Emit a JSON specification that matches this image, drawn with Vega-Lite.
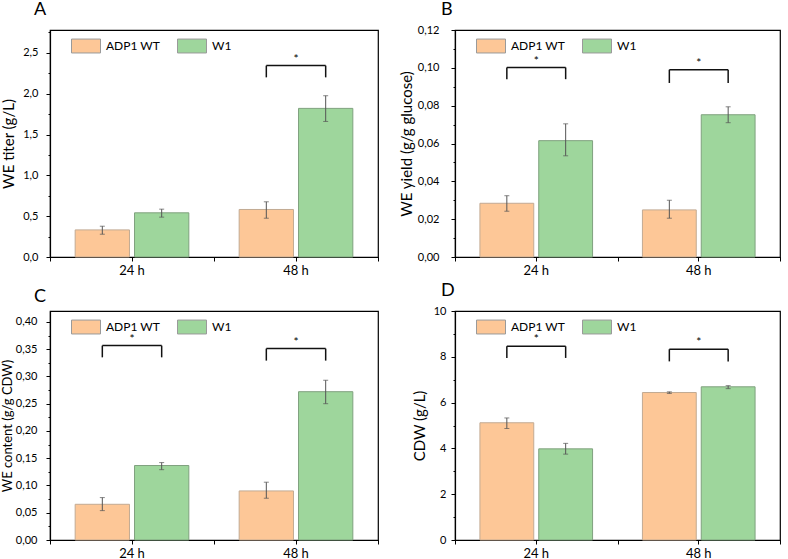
{
  "$schema": "https://vega.github.io/schema/vega-lite/v6.json",
  "padding": {"left": 0, "top": 0, "right": 5, "bottom": 5},
  "datasets": {
    "bars": [
      {"panel": "A", "time": "24 h", "strain": "ADP1 WT", "value": 0.332, "lo": 0.279, "hi": 0.377},
      {"panel": "A", "time": "24 h", "strain": "W1", "value": 0.541, "lo": 0.488, "hi": 0.586},
      {"panel": "A", "time": "48 h", "strain": "ADP1 WT", "value": 0.582, "lo": 0.475, "hi": 0.676},
      {"panel": "A", "time": "48 h", "strain": "W1", "value": 1.82, "lo": 1.66, "hi": 1.975},
      {"panel": "B", "time": "24 h", "strain": "ADP1 WT", "value": 0.0284, "lo": 0.0242, "hi": 0.0324},
      {"panel": "B", "time": "24 h", "strain": "W1", "value": 0.0615, "lo": 0.0535, "hi": 0.0704},
      {"panel": "B", "time": "48 h", "strain": "ADP1 WT", "value": 0.0249, "lo": 0.0205, "hi": 0.030},
      {"panel": "B", "time": "48 h", "strain": "W1", "value": 0.0752, "lo": 0.071, "hi": 0.0794},
      {"panel": "C", "time": "24 h", "strain": "ADP1 WT", "value": 0.0655, "lo": 0.0539, "hi": 0.0778},
      {"panel": "C", "time": "24 h", "strain": "W1", "value": 0.1366, "lo": 0.129, "hi": 0.142},
      {"panel": "C", "time": "48 h", "strain": "ADP1 WT", "value": 0.090, "lo": 0.0766, "hi": 0.106},
      {"panel": "C", "time": "48 h", "strain": "W1", "value": 0.272, "lo": 0.25, "hi": 0.293},
      {"panel": "D", "time": "24 h", "strain": "ADP1 WT", "value": 5.12, "lo": 4.87, "hi": 5.33},
      {"panel": "D", "time": "24 h", "strain": "W1", "value": 3.98, "lo": 3.75, "hi": 4.22},
      {"panel": "D", "time": "48 h", "strain": "ADP1 WT", "value": 6.44, "lo": 6.40, "hi": 6.47},
      {"panel": "D", "time": "48 h", "strain": "W1", "value": 6.69, "lo": 6.61, "hi": 6.74}
    ],
    "brackets": [
      {"panel": "A", "time": "48 h", "strain": "ADP1 WT", "top": 2.344, "foot": 2.2},
      {"panel": "A", "time": "48 h", "strain": "W1", "top": 2.344, "foot": 2.2},
      {"panel": "B", "time": "24 h", "strain": "ADP1 WT", "top": 0.1002, "foot": 0.094},
      {"panel": "B", "time": "24 h", "strain": "W1", "top": 0.1002, "foot": 0.094},
      {"panel": "B", "time": "48 h", "strain": "ADP1 WT", "top": 0.099, "foot": 0.092},
      {"panel": "B", "time": "48 h", "strain": "W1", "top": 0.099, "foot": 0.092},
      {"panel": "C", "time": "24 h", "strain": "ADP1 WT", "top": 0.3565, "foot": 0.335},
      {"panel": "C", "time": "24 h", "strain": "W1", "top": 0.3565, "foot": 0.335},
      {"panel": "C", "time": "48 h", "strain": "ADP1 WT", "top": 0.351, "foot": 0.329},
      {"panel": "C", "time": "48 h", "strain": "W1", "top": 0.351, "foot": 0.329},
      {"panel": "D", "time": "24 h", "strain": "ADP1 WT", "top": 8.46, "foot": 7.95},
      {"panel": "D", "time": "24 h", "strain": "W1", "top": 8.46, "foot": 7.95},
      {"panel": "D", "time": "48 h", "strain": "ADP1 WT", "top": 8.33, "foot": 7.8},
      {"panel": "D", "time": "48 h", "strain": "W1", "top": 8.33, "foot": 7.8}
    ],
    "stars": [
      {"panel": "A", "time": "48 h", "y": 2.42},
      {"panel": "B", "time": "24 h", "y": 0.1035},
      {"panel": "B", "time": "48 h", "y": 0.1025},
      {"panel": "C", "time": "24 h", "y": 0.368},
      {"panel": "C", "time": "48 h", "y": 0.3625},
      {"panel": "D", "time": "24 h", "y": 8.78},
      {"panel": "D", "time": "48 h", "y": 8.65}
    ]
  },
  "config": {
    "font": "Lato",
    "locale": {"number": {"decimal": ",", "thousands": ".", "grouping": [3], "currency": ["", " €"]}},
    "view": {"stroke": "#000000", "strokeWidth": 1.2},
    "axis": {
      "grid": false, "domainColor": "#000000", "domainWidth": 1.2, "tickColor": "#000000", "tickWidth": 1,
      "labelColor": "#000000", "titleColor": "#000000", "labelFont": "Lato", "titleFont": "Lato",
      "titleFontWeight": "normal", "tickSize": 4
    },
    "axisY": {"labelFontSize": 11, "titleFontSize": 15, "labelPadding": 7, "titlePadding": 6},
    "axisX": {"labelFontSize": 13, "labelPadding": 3},
    "legend": {"labelFont": "Lato", "labelFontSize": 12, "labelColor": "#000000", "title": null},
    "title": {"font": "Lato", "fontSize": 18, "fontWeight": "normal", "anchor": "start", "color": "#000000", "frame": "group"}
  },
  "columns": 2,
  "bounds": "flush",
  "spacing": {"column": 77, "row": 54},
  "resolve": {
    "scale": {"x": "independent", "y": "independent", "xOffset": "independent"},
    "legend": {"color": "independent"}
  },
  "concat": [
    {
      "width": 328, "height": 227,
      "title": {"text": "A", "dx": -16, "offset": 11},
      "resolve": {"axis": {"x": "independent", "y": "independent"}},
      "layer": [
        {
          "data": {"name": "bars"},
          "transform": [{"filter": {"field": "panel", "equal": "A"}}],
          "mark": {"type": "bar", "strokeWidth": 1},
          "encoding": {
            "x": {"field": "time", "type": "nominal", "scale": {"paddingInner": 0, "paddingOuter": 0}, "axis": {"title": null, "labelAngle": 0}},
            "xOffset": {"field": "strain", "type": "nominal", "scale": {"paddingInner": 0.085, "paddingOuter": 0.424}},
            "y": {"field": "value", "type": "quantitative", "scale": {"domain": [0, 2.78], "nice": false}, "axis": {"title": "WE titer (g/L)", "values": [0, 0.5, 1, 1.5, 2, 2.5], "format": ".1f", "labelPadding": 8, "titlePadding": 6}},
            "color": {"field": "strain", "type": "nominal", "scale": {"domain": ["ADP1 WT", "W1"], "range": ["#FDC797", "#9ED69C"]},
              "legend": {"orient": "none", "direction": "horizontal", "legendX": 21, "legendY": 1, "symbolType": "M-1,-0.48H1V0.48H-1Z", "symbolSize": 841, "symbolStrokeColor": "#9a9a9a", "symbolStrokeWidth": 1, "symbolOpacity": 1, "columnPadding": 14, "labelOffset": 5}},
            "stroke": {"field": "strain", "type": "nominal", "scale": {"domain": ["ADP1 WT", "W1"], "range": ["#C2AA93", "#7FA17E"]}, "legend": null}
          }
        },
        {
          "data": {"name": "bars"},
          "transform": [{"filter": {"field": "panel", "equal": "A"}}],
          "mark": {"type": "rule", "color": "#555555", "strokeWidth": 1},
          "encoding": {
            "x": {"field": "time", "type": "nominal", "axis": {"title": null, "labels": false, "domain": false, "tickBand": "extent", "orient": "bottom"}},
            "xOffset": {"field": "strain", "type": "nominal"},
            "y": {"field": "lo", "type": "quantitative", "axis": {"title": null, "labels": false, "domain": false, "tickSize": 2, "values": [0.25, 0.75, 1.25, 1.75, 2.25, 2.75], "orient": "left"}},
            "y2": {"field": "hi"}
          }
        },
        {
          "data": {"name": "bars"},
          "transform": [{"filter": {"field": "panel", "equal": "A"}}],
          "mark": {"type": "tick", "color": "#555555", "thickness": 1, "size": 5},
          "encoding": {
            "x": {"field": "time", "type": "nominal", "axis": null},
            "xOffset": {"field": "strain", "type": "nominal"},
            "y": {"field": "lo", "type": "quantitative", "axis": null}
          }
        },
        {
          "data": {"name": "bars"},
          "transform": [{"filter": {"field": "panel", "equal": "A"}}],
          "mark": {"type": "tick", "color": "#555555", "thickness": 1, "size": 5},
          "encoding": {
            "x": {"field": "time", "type": "nominal", "axis": null},
            "xOffset": {"field": "strain", "type": "nominal"},
            "y": {"field": "hi", "type": "quantitative", "axis": null}
          }
        },
        {
          "data": {"name": "brackets"},
          "transform": [{"filter": {"field": "panel", "equal": "A"}}],
          "mark": {"type": "rule", "color": "#111111", "strokeWidth": 1.5},
          "encoding": {
            "x": {"field": "time", "type": "nominal", "axis": null},
            "xOffset": {"field": "strain", "type": "nominal"},
            "y": {"field": "foot", "type": "quantitative", "axis": null},
            "y2": {"field": "top"}
          }
        },
        {
          "data": {"name": "brackets"},
          "transform": [{"filter": {"field": "panel", "equal": "A"}}],
          "mark": {"type": "line", "color": "#111111", "strokeWidth": 1.5},
          "encoding": {
            "x": {"field": "time", "type": "nominal", "axis": null},
            "xOffset": {"field": "strain", "type": "nominal"},
            "y": {"field": "top", "type": "quantitative", "axis": null},
            "detail": {"field": "time"}
          }
        },
        {
          "data": {"name": "stars"},
          "transform": [{"filter": {"field": "panel", "equal": "A"}}],
          "mark": {"type": "text", "text": "*", "fontSize": 12, "color": "#000000", "baseline": "middle"},
          "encoding": {
            "x": {"field": "time", "type": "nominal", "axis": null},
            "y": {"field": "y", "type": "quantitative", "axis": null}
          }
        }
      ]
    },
    {
      "width": 325, "height": 227,
      "title": {"text": "B", "dx": -14, "offset": 5},
      "resolve": {"axis": {"x": "independent", "y": "independent"}},
      "layer": [
        {
          "data": {"name": "bars"},
          "transform": [{"filter": {"field": "panel", "equal": "B"}}],
          "mark": {"type": "bar", "strokeWidth": 1},
          "encoding": {
            "x": {"field": "time", "type": "nominal", "scale": {"paddingInner": 0, "paddingOuter": 0}, "axis": {"title": null, "labelAngle": 0}},
            "xOffset": {"field": "strain", "type": "nominal", "scale": {"paddingInner": 0.085, "paddingOuter": 0.424}},
            "y": {"field": "value", "type": "quantitative", "scale": {"domain": [0, 0.12], "nice": false}, "axis": {"title": "WE yield (g/g glucose)", "values": [0, 0.02, 0.04, 0.06, 0.08, 0.1, 0.12], "format": ".2f", "labelPadding": 12, "titlePadding": 3}},
            "color": {"field": "strain", "type": "nominal", "scale": {"domain": ["ADP1 WT", "W1"], "range": ["#FDC797", "#9ED69C"]},
              "legend": {"orient": "none", "direction": "horizontal", "legendX": 21, "legendY": 1, "symbolType": "M-1,-0.48H1V0.48H-1Z", "symbolSize": 841, "symbolStrokeColor": "#9a9a9a", "symbolStrokeWidth": 1, "symbolOpacity": 1, "columnPadding": 14, "labelOffset": 5}},
            "stroke": {"field": "strain", "type": "nominal", "scale": {"domain": ["ADP1 WT", "W1"], "range": ["#C2AA93", "#7FA17E"]}, "legend": null}
          }
        },
        {
          "data": {"name": "bars"},
          "transform": [{"filter": {"field": "panel", "equal": "B"}}],
          "mark": {"type": "rule", "color": "#555555", "strokeWidth": 1},
          "encoding": {
            "x": {"field": "time", "type": "nominal", "axis": {"title": null, "labels": false, "domain": false, "tickBand": "extent", "orient": "bottom"}},
            "xOffset": {"field": "strain", "type": "nominal"},
            "y": {"field": "lo", "type": "quantitative", "axis": {"title": null, "labels": false, "domain": false, "tickSize": 2, "values": [0.01, 0.03, 0.05, 0.07, 0.09, 0.11], "orient": "left"}},
            "y2": {"field": "hi"}
          }
        },
        {
          "data": {"name": "bars"},
          "transform": [{"filter": {"field": "panel", "equal": "B"}}],
          "mark": {"type": "tick", "color": "#555555", "thickness": 1, "size": 5},
          "encoding": {
            "x": {"field": "time", "type": "nominal", "axis": null},
            "xOffset": {"field": "strain", "type": "nominal"},
            "y": {"field": "lo", "type": "quantitative", "axis": null}
          }
        },
        {
          "data": {"name": "bars"},
          "transform": [{"filter": {"field": "panel", "equal": "B"}}],
          "mark": {"type": "tick", "color": "#555555", "thickness": 1, "size": 5},
          "encoding": {
            "x": {"field": "time", "type": "nominal", "axis": null},
            "xOffset": {"field": "strain", "type": "nominal"},
            "y": {"field": "hi", "type": "quantitative", "axis": null}
          }
        },
        {
          "data": {"name": "brackets"},
          "transform": [{"filter": {"field": "panel", "equal": "B"}}],
          "mark": {"type": "rule", "color": "#111111", "strokeWidth": 1.5},
          "encoding": {
            "x": {"field": "time", "type": "nominal", "axis": null},
            "xOffset": {"field": "strain", "type": "nominal"},
            "y": {"field": "foot", "type": "quantitative", "axis": null},
            "y2": {"field": "top"}
          }
        },
        {
          "data": {"name": "brackets"},
          "transform": [{"filter": {"field": "panel", "equal": "B"}}],
          "mark": {"type": "line", "color": "#111111", "strokeWidth": 1.5},
          "encoding": {
            "x": {"field": "time", "type": "nominal", "axis": null},
            "xOffset": {"field": "strain", "type": "nominal"},
            "y": {"field": "top", "type": "quantitative", "axis": null},
            "detail": {"field": "time"}
          }
        },
        {
          "data": {"name": "stars"},
          "transform": [{"filter": {"field": "panel", "equal": "B"}}],
          "mark": {"type": "text", "text": "*", "fontSize": 12, "color": "#000000", "baseline": "middle"},
          "encoding": {
            "x": {"field": "time", "type": "nominal", "axis": null},
            "y": {"field": "y", "type": "quantitative", "axis": null}
          }
        }
      ]
    },
    {
      "width": 328, "height": 229,
      "title": {"text": "C", "dx": -16, "offset": 5},
      "resolve": {"axis": {"x": "independent", "y": "independent"}},
      "layer": [
        {
          "data": {"name": "bars"},
          "transform": [{"filter": {"field": "panel", "equal": "C"}}],
          "mark": {"type": "bar", "strokeWidth": 1},
          "encoding": {
            "x": {"field": "time", "type": "nominal", "scale": {"paddingInner": 0, "paddingOuter": 0}, "axis": {"title": null, "labelAngle": 0}},
            "xOffset": {"field": "strain", "type": "nominal", "scale": {"paddingInner": 0.085, "paddingOuter": 0.424}},
            "y": {"field": "value", "type": "quantitative", "scale": {"domain": [0, 0.42], "nice": false}, "axis": {"title": "WE content (g/g CDW)", "titleFontSize": 13, "values": [0, 0.05, 0.1, 0.15, 0.2, 0.25, 0.3, 0.35, 0.4], "format": ".2f", "labelPadding": 9, "titlePadding": 1}},
            "color": {"field": "strain", "type": "nominal", "scale": {"domain": ["ADP1 WT", "W1"], "range": ["#FDC797", "#9ED69C"]},
              "legend": {"orient": "none", "direction": "horizontal", "legendX": 21, "legendY": 1, "symbolType": "M-1,-0.48H1V0.48H-1Z", "symbolSize": 841, "symbolStrokeColor": "#9a9a9a", "symbolStrokeWidth": 1, "symbolOpacity": 1, "columnPadding": 14, "labelOffset": 5}},
            "stroke": {"field": "strain", "type": "nominal", "scale": {"domain": ["ADP1 WT", "W1"], "range": ["#C2AA93", "#7FA17E"]}, "legend": null}
          }
        },
        {
          "data": {"name": "bars"},
          "transform": [{"filter": {"field": "panel", "equal": "C"}}],
          "mark": {"type": "rule", "color": "#555555", "strokeWidth": 1},
          "encoding": {
            "x": {"field": "time", "type": "nominal", "axis": {"title": null, "labels": false, "domain": false, "tickBand": "extent", "orient": "bottom"}},
            "xOffset": {"field": "strain", "type": "nominal"},
            "y": {"field": "lo", "type": "quantitative", "axis": {"title": null, "labels": false, "domain": false, "tickSize": 2, "values": [0.025, 0.075, 0.125, 0.175, 0.225, 0.275, 0.325, 0.375], "orient": "left"}},
            "y2": {"field": "hi"}
          }
        },
        {
          "data": {"name": "bars"},
          "transform": [{"filter": {"field": "panel", "equal": "C"}}],
          "mark": {"type": "tick", "color": "#555555", "thickness": 1, "size": 5},
          "encoding": {
            "x": {"field": "time", "type": "nominal", "axis": null},
            "xOffset": {"field": "strain", "type": "nominal"},
            "y": {"field": "lo", "type": "quantitative", "axis": null}
          }
        },
        {
          "data": {"name": "bars"},
          "transform": [{"filter": {"field": "panel", "equal": "C"}}],
          "mark": {"type": "tick", "color": "#555555", "thickness": 1, "size": 5},
          "encoding": {
            "x": {"field": "time", "type": "nominal", "axis": null},
            "xOffset": {"field": "strain", "type": "nominal"},
            "y": {"field": "hi", "type": "quantitative", "axis": null}
          }
        },
        {
          "data": {"name": "brackets"},
          "transform": [{"filter": {"field": "panel", "equal": "C"}}],
          "mark": {"type": "rule", "color": "#111111", "strokeWidth": 1.5},
          "encoding": {
            "x": {"field": "time", "type": "nominal", "axis": null},
            "xOffset": {"field": "strain", "type": "nominal"},
            "y": {"field": "foot", "type": "quantitative", "axis": null},
            "y2": {"field": "top"}
          }
        },
        {
          "data": {"name": "brackets"},
          "transform": [{"filter": {"field": "panel", "equal": "C"}}],
          "mark": {"type": "line", "color": "#111111", "strokeWidth": 1.5},
          "encoding": {
            "x": {"field": "time", "type": "nominal", "axis": null},
            "xOffset": {"field": "strain", "type": "nominal"},
            "y": {"field": "top", "type": "quantitative", "axis": null},
            "detail": {"field": "time"}
          }
        },
        {
          "data": {"name": "stars"},
          "transform": [{"filter": {"field": "panel", "equal": "C"}}],
          "mark": {"type": "text", "text": "*", "fontSize": 12, "color": "#000000", "baseline": "middle"},
          "encoding": {
            "x": {"field": "time", "type": "nominal", "axis": null},
            "y": {"field": "y", "type": "quantitative", "axis": null}
          }
        }
      ]
    },
    {
      "width": 325, "height": 229,
      "title": {"text": "D", "dx": -14, "offset": 5},
      "resolve": {"axis": {"x": "independent", "y": "independent"}},
      "layer": [
        {
          "data": {"name": "bars"},
          "transform": [{"filter": {"field": "panel", "equal": "D"}}],
          "mark": {"type": "bar", "strokeWidth": 1},
          "encoding": {
            "x": {"field": "time", "type": "nominal", "scale": {"paddingInner": 0, "paddingOuter": 0}, "axis": {"title": null, "labelAngle": 0}},
            "xOffset": {"field": "strain", "type": "nominal", "scale": {"paddingInner": 0.085, "paddingOuter": 0.424}},
            "y": {"field": "value", "type": "quantitative", "scale": {"domain": [0, 10], "nice": false}, "axis": {"title": "CDW (g/L)", "values": [0, 2, 4, 6, 8, 10], "format": "d", "labelPadding": 5, "titlePadding": 6}},
            "color": {"field": "strain", "type": "nominal", "scale": {"domain": ["ADP1 WT", "W1"], "range": ["#FDC797", "#9ED69C"]},
              "legend": {"orient": "none", "direction": "horizontal", "legendX": 21, "legendY": 1, "symbolType": "M-1,-0.48H1V0.48H-1Z", "symbolSize": 841, "symbolStrokeColor": "#9a9a9a", "symbolStrokeWidth": 1, "symbolOpacity": 1, "columnPadding": 14, "labelOffset": 5}},
            "stroke": {"field": "strain", "type": "nominal", "scale": {"domain": ["ADP1 WT", "W1"], "range": ["#C2AA93", "#7FA17E"]}, "legend": null}
          }
        },
        {
          "data": {"name": "bars"},
          "transform": [{"filter": {"field": "panel", "equal": "D"}}],
          "mark": {"type": "rule", "color": "#555555", "strokeWidth": 1},
          "encoding": {
            "x": {"field": "time", "type": "nominal", "axis": {"title": null, "labels": false, "domain": false, "tickBand": "extent", "orient": "bottom"}},
            "xOffset": {"field": "strain", "type": "nominal"},
            "y": {"field": "lo", "type": "quantitative", "axis": {"title": null, "labels": false, "domain": false, "tickSize": 2, "values": [1, 3, 5, 7, 9], "orient": "left"}},
            "y2": {"field": "hi"}
          }
        },
        {
          "data": {"name": "bars"},
          "transform": [{"filter": {"field": "panel", "equal": "D"}}],
          "mark": {"type": "tick", "color": "#555555", "thickness": 1, "size": 5},
          "encoding": {
            "x": {"field": "time", "type": "nominal", "axis": null},
            "xOffset": {"field": "strain", "type": "nominal"},
            "y": {"field": "lo", "type": "quantitative", "axis": null}
          }
        },
        {
          "data": {"name": "bars"},
          "transform": [{"filter": {"field": "panel", "equal": "D"}}],
          "mark": {"type": "tick", "color": "#555555", "thickness": 1, "size": 5},
          "encoding": {
            "x": {"field": "time", "type": "nominal", "axis": null},
            "xOffset": {"field": "strain", "type": "nominal"},
            "y": {"field": "hi", "type": "quantitative", "axis": null}
          }
        },
        {
          "data": {"name": "brackets"},
          "transform": [{"filter": {"field": "panel", "equal": "D"}}],
          "mark": {"type": "rule", "color": "#111111", "strokeWidth": 1.5},
          "encoding": {
            "x": {"field": "time", "type": "nominal", "axis": null},
            "xOffset": {"field": "strain", "type": "nominal"},
            "y": {"field": "foot", "type": "quantitative", "axis": null},
            "y2": {"field": "top"}
          }
        },
        {
          "data": {"name": "brackets"},
          "transform": [{"filter": {"field": "panel", "equal": "D"}}],
          "mark": {"type": "line", "color": "#111111", "strokeWidth": 1.5},
          "encoding": {
            "x": {"field": "time", "type": "nominal", "axis": null},
            "xOffset": {"field": "strain", "type": "nominal"},
            "y": {"field": "top", "type": "quantitative", "axis": null},
            "detail": {"field": "time"}
          }
        },
        {
          "data": {"name": "stars"},
          "transform": [{"filter": {"field": "panel", "equal": "D"}}],
          "mark": {"type": "text", "text": "*", "fontSize": 12, "color": "#000000", "baseline": "middle"},
          "encoding": {
            "x": {"field": "time", "type": "nominal", "axis": null},
            "y": {"field": "y", "type": "quantitative", "axis": null}
          }
        }
      ]
    }
  ]
}
